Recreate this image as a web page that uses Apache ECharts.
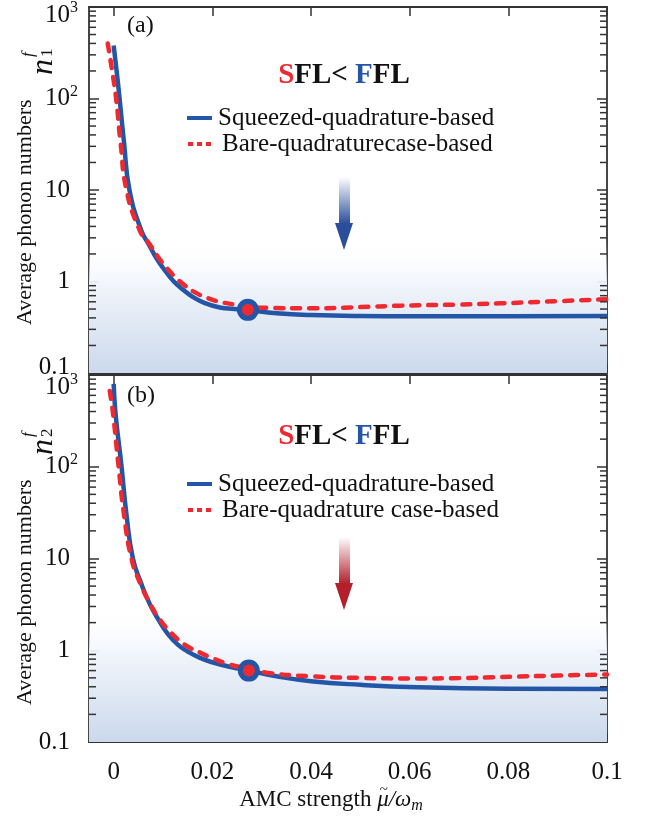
<!DOCTYPE html>
<html><head><meta charset="utf-8">
<script src="https://cdn.jsdelivr.net/npm/echarts@6/dist/echarts.min.js"></script>
<style>html,body{margin:0;padding:0;background:#fff}#c{width:646px;height:823px}</style>
</head><body><div id="c"></div>
<script>
// ---------- data ----------
const xMin = -0.005, xMax = 0.1;
const xTicks = [0, 0.02, 0.04, 0.06, 0.08, 0.1];
const xTickLabels = ['0', '0.02', '0.04', '0.06', '0.08', '0.1'];
const yMin = 0.1, yMax = 1000;
const yTickExps = [-1, 0, 1, 2, 3];
const yTickLabels = ['0.1', '1', '10', '10', '10'];
const yTickSups = ['', '', '', '2', '3'];
const yMinorTicks = [0.2,0.3,0.4,0.5,0.6,0.7,0.8,0.9, 2,3,4,5,6,7,8,9, 20,30,40,50,60,70,80,90, 200,300,400,500,600,700,800,900];

// panel (a)
const aSqueezed = [[0,380],[0.0006,200],[0.0012,100],[0.0021,33],[0.0032,10],[0.0056,3.6],[0.0072,2.5],[0.0088,1.75],[0.0105,1.3],[0.0122,1.0],[0.014,0.82],[0.016,0.68],[0.0185,0.58],[0.0215,0.52],[0.0245,0.5],[0.0272,0.485],[0.033,0.45],[0.04,0.43],[0.05,0.42],[0.06,0.418],[0.08,0.418],[0.1,0.42]];
const aBare = [[-0.0012,400],[-0.0003,200],[0.0005,100],[0.0014,33],[0.0026,10],[0.0053,3.6],[0.0072,2.6],[0.009,1.85],[0.0108,1.4],[0.0126,1.1],[0.0145,0.9],[0.0165,0.76],[0.019,0.66],[0.0215,0.6],[0.0245,0.56],[0.0272,0.53],[0.031,0.515],[0.04,0.51],[0.05,0.525],[0.058,0.544],[0.07,0.56],[0.0783,0.577],[0.09,0.61],[0.1,0.64]];
const aMarker = [[0.0272, 0.49]];

// panel (b)
const bSqueezed = [[0,800],[0.0004,370],[0.0016,100],[0.0026,30],[0.0039,10],[0.0055,5.5],[0.0073,3.2],[0.0092,2.1],[0.011,1.5],[0.013,1.15],[0.015,0.97],[0.0174,0.83],[0.02,0.74],[0.0235,0.66],[0.0274,0.6],[0.033,0.52],[0.04,0.46],[0.05,0.42],[0.0614,0.395],[0.08,0.38],[0.1,0.377]];
const bBare = [[-0.0008,670],[-0.0001,370],[0.001,100],[0.0021,30],[0.0036,10],[0.0053,5.5],[0.0074,3.2],[0.0094,2.15],[0.0114,1.6],[0.0135,1.25],[0.0155,1.06],[0.0174,0.95],[0.02,0.82],[0.0235,0.7],[0.0274,0.63],[0.031,0.57],[0.0398,0.52],[0.05,0.5],[0.0614,0.493],[0.07,0.497],[0.0783,0.51],[0.09,0.53],[0.1,0.544]];
const bMarker = [[0.0274, 0.6]];

const legendA = ['Squeezed-quadrature-based', 'Bare-quadraturecase-based'];
const legendB = ['Squeezed-quadrature-based', 'Bare-quadrature case-based'];
const xTitleParts = ['AMC strength ', 'μ', '/ω', 'm'];

// ---------- style ----------
const FAM = '"Liberation Serif","Times New Roman",serif';
const BLUE = '#2356a6', RED = '#ee2a30', AX = '#333333';
const shadeTop = 3;

const chart = echarts.init(document.getElementById('c'), null, {renderer: 'canvas'});

const grids = [
  {left: 89, top: 7, width: 518, height: 366, outerBoundsMode: 'none', containLabel: false},
  {left: 89, top: 375, width: 518, height: 367, outerBoundsMode: 'none', containLabel: false}
];

function xAxisDef(g, pos, showLabel) {
  return {
    type: 'value', gridIndex: g, min: xMin, max: xMax, position: pos,
    axisLine: {show: true, onZero: false, lineStyle: {color: AX, width: 1.8}},
    axisTick: {show: true, inside: true, length: 9, customValues: xTicks, lineStyle: {color: AX, width: 1.5}},
    axisLabel: {show: showLabel, customValues: xTicks, margin: 18,
      formatter: v => { let i = xTicks.findIndex(t => Math.abs(t - v) < 1e-9); return i < 0 ? '' : xTickLabels[i]; },
      fontSize: 25, fontFamily: FAM, color: '#111'},
    splitLine: {show: false}
  };
}

const baseLab = {fontSize: 25, fontFamily: FAM, color: '#111', lineHeight: 28};
const baseSup = {fontSize: 16, fontFamily: FAM, color: '#111', lineHeight: 14};
const yRich = {
  n: baseLab,
  nd: Object.assign({}, baseLab, {padding: [16, 0, 0, 0]}),
  nd2: Object.assign({}, baseLab, {padding: [24, 0, 0, 0]}),
  nu: Object.assign({}, baseLab, {padding: [0, 0, 12, 0]}),
  sup: Object.assign({}, baseSup, {padding: [0, 0, 14, 0]}),
  sd: Object.assign({}, baseSup, {padding: [16, 0, 14, 0]}),
  sd2: Object.assign({}, baseSup, {padding: [24, 0, 14, 0]}),
  pad: {width: 8, fontSize: 16}
};
function yFmt(panel) {
  return function (v) {
    const e = Math.round(Math.log10(v));
    const i = yTickExps.indexOf(e);
    if (i < 0) return '';
    let n = 'n', s = 'sup';
    if (panel === 0 && e === 3) { n = 'nd'; s = 'sd'; }
    if (panel === 0 && e === -1) { n = 'nu'; }
    if (panel === 1 && e === 3) { n = 'nd2'; s = 'sd2'; }
    return yTickSups[i] ? '{' + n + '|' + yTickLabels[i] + '}{' + s + '|' + yTickSups[i] + '}'
                        : '{' + n + '|' + yTickLabels[i] + '}{pad| }';
  };
}
function yAxisDef(g, pos) {
  return {
    type: 'log', logBase: 10, gridIndex: g, min: yMin, max: yMax, position: pos,
    axisLine: {show: true, onZero: false, lineStyle: {color: AX, width: 1.8}},
    axisTick: {show: true, inside: true, length: 10, lineStyle: {color: AX, width: 1.5}},
    axisLabel: {show: pos === 'left', margin: 11, formatter: yFmt(g), rich: yRich},
    splitLine: {show: false}, minorTick: {show: false}
  };
}

const shadeGrad = new echarts.graphic.LinearGradient(0, 0, 0, 1, [
  {offset: 0, color: 'rgba(255,255,255,0)'},
  {offset: 0.35, color: '#f1f5fb'},
  {offset: 1, color: '#cbd9ec'}
]);

function panelSeries(g, sq, bare, marker) {
  const xi = 2 * g, yi = 2 * g;
  return [
    {type: 'line', xAxisIndex: xi, yAxisIndex: yi, data: sq, showSymbol: false, symbol: 'none',
     smooth: 0.5, lineStyle: {color: BLUE, width: 4.5}, z: 3, silent: true,
     markArea: {silent: true, itemStyle: {color: shadeGrad},
       data: [[{xAxis: xMin, yAxis: yMin}, {xAxis: xMax, yAxis: shadeTop}]]}},
    {type: 'line', xAxisIndex: xi, yAxisIndex: yi, data: bare, showSymbol: false, symbol: 'none',
     smooth: 0.5, lineStyle: {color: RED, width: 4.5, type: [8, 9], cap: 'round'}, z: 4, silent: true},
    {type: 'scatter', xAxisIndex: xi, yAxisIndex: yi, data: marker, symbol: 'circle', symbolSize: 17,
     itemStyle: {color: RED, borderColor: BLUE, borderWidth: 5, opacity: 1}, z: 6, silent: true}
  ];
}

function txt(x, y, text, size, extra) {
  return {type: 'text', x: x, y: y, z: 20, silent: true,
    style: Object.assign({text: text, fontSize: size, fontFamily: FAM, fill: '#111', align: 'left', verticalAlign: 'middle'}, extra || {})};
}
function sflText(y) {
  return {type: 'text', x: 344, y: y, z: 20, silent: true, style: {
    text: '{r|S}{k|FL< }{b|F}{k|FL}', align: 'center', verticalAlign: 'middle',
    fontSize: 29, fontWeight: 'bold', fontFamily: FAM,
    rich: {
      r: {fill: RED, color: RED, fontSize: 29, fontWeight: 'bold', fontFamily: FAM},
      k: {fill: '#111', color: '#111', fontSize: 29, fontWeight: 'bold', fontFamily: FAM},
      b: {fill: BLUE, color: BLUE, fontSize: 29, fontWeight: 'bold', fontFamily: FAM}
    }}};
}
function legendGroup(y1, y2, labels, dx2) {
  return [
    {type: 'line', z: 20, silent: true, shape: {x1: 187, y1: y1, x2: 212, y2: y1}, style: {stroke: BLUE, lineWidth: 4}},
    txt(218, y1, labels[0], 25),
    {type: 'line', z: 20, silent: true, shape: {x1: 188, y1: y2, x2: 212, y2: y2}, style: {stroke: RED, lineWidth: 4, lineDash: [5, 4]}},
    txt(218 + dx2, y2, labels[1], 25)
  ];
}
function arrow(topY, color) {
  return [
    {type: 'rect', z: 20, silent: true, shape: {x: 339, y: topY, width: 11, height: 47},
     style: {fill: new echarts.graphic.LinearGradient(0, 0, 0, 1, [{offset: 0, color: '#ffffff'}, {offset: 1, color: color}])}},
    {type: 'polygon', z: 20, silent: true, shape: {points: [[335, topY + 46], [353, topY + 46], [344, topY + 73]]}, style: {fill: color}}
  ];
}
function yTitle(x0, yStart, sub) {
  return {type: 'group', x: x0, y: yStart, rotation: Math.PI / 2, silent: true, children: [
    txt(0, 0, 'Average phonon numbers', 22),
    txt(250, 19, 'n', 32, {fontStyle: 'italic'}),
    txt(268, 4, 'f', 17, {fontStyle: 'italic'}),
    txt(268, 23, sub, 17)
  ]};
}
// x-axis title, laid out with measured widths
const mctx = document.createElement('canvas').getContext('2d');
function tw(t, f) { mctx.font = f; return mctx.measureText(t).width; }
function xTitle(cx, cy) {
  const f1 = '23px ' + FAM, fi = 'italic 23px ' + FAM, fs = 'italic 16px ' + FAM;
  const w = [tw(xTitleParts[0], f1), tw(xTitleParts[1], fi), tw(xTitleParts[2], fi), tw(xTitleParts[3], fs)];
  const total = w[0] + w[1] + w[2] + w[3];
  let x = cx - total / 2;
  const out = [];
  out.push(txt(x, cy, xTitleParts[0], 23)); x += w[0];
  out.push(txt(x, cy, xTitleParts[1], 23, {fontStyle: 'italic'}));
  out.push(txt(x + w[1] / 2 + 1, cy - 10, '~', 15, {align: 'center'})); x += w[1];
  out.push(txt(x, cy, xTitleParts[2], 23, {fontStyle: 'italic'})); x += w[2];
  out.push(txt(x, cy + 6, xTitleParts[3], 16, {fontStyle: 'italic'}));
  return out;
}

const graphics = [].concat(
  [txt(127, 26, '(a)', 24), txt(127, 396, '(b)', 24)],
  [sflText(76), sflText(437)],
  legendGroup(118, 144, legendA, 4),
  legendGroup(484, 510, legendB, 4),
  arrow(177, '#2b4e9c'),
  arrow(537, '#b3202b'),
  [yTitle(25, 325, '1'), yTitle(25, 705, '2')],
  xTitle(331, 800)
);

chart.setOption({
  animation: false,
  backgroundColor: '#ffffff',
  grid: grids,
  xAxis: [xAxisDef(0, 'bottom', false), xAxisDef(0, 'top', false), xAxisDef(1, 'bottom', true), xAxisDef(1, 'top', false)],
  yAxis: [yAxisDef(0, 'left'), yAxisDef(0, 'right'), yAxisDef(1, 'left'), yAxisDef(1, 'right')],
  series: [].concat(panelSeries(0, aSqueezed, aBare, aMarker), panelSeries(1, bSqueezed, bBare, bMarker))
});

// minor log ticks on both vertical axes, positioned through the axes' own scales
const minorTicks = [];
[0, 1].forEach(function (g) {
  const finder = {xAxisIndex: 2 * g, yAxisIndex: 2 * g};
  yMinorTicks.forEach(function (v) {
    const pl = chart.convertToPixel(finder, [xMin, v]);
    const pr = chart.convertToPixel(finder, [xMax, v]);
    minorTicks.push({type: 'line', z: 15, silent: true, shape: {x1: pl[0], y1: pl[1], x2: pl[0] + 7, y2: pl[1]}, style: {stroke: AX, lineWidth: 1.5}});
    minorTicks.push({type: 'line', z: 15, silent: true, shape: {x1: pr[0], y1: pr[1], x2: pr[0] - 7, y2: pr[1]}, style: {stroke: AX, lineWidth: 1.5}});
  });
});
chart.setOption({graphic: graphics.concat(minorTicks)});
</script>
</body></html>
